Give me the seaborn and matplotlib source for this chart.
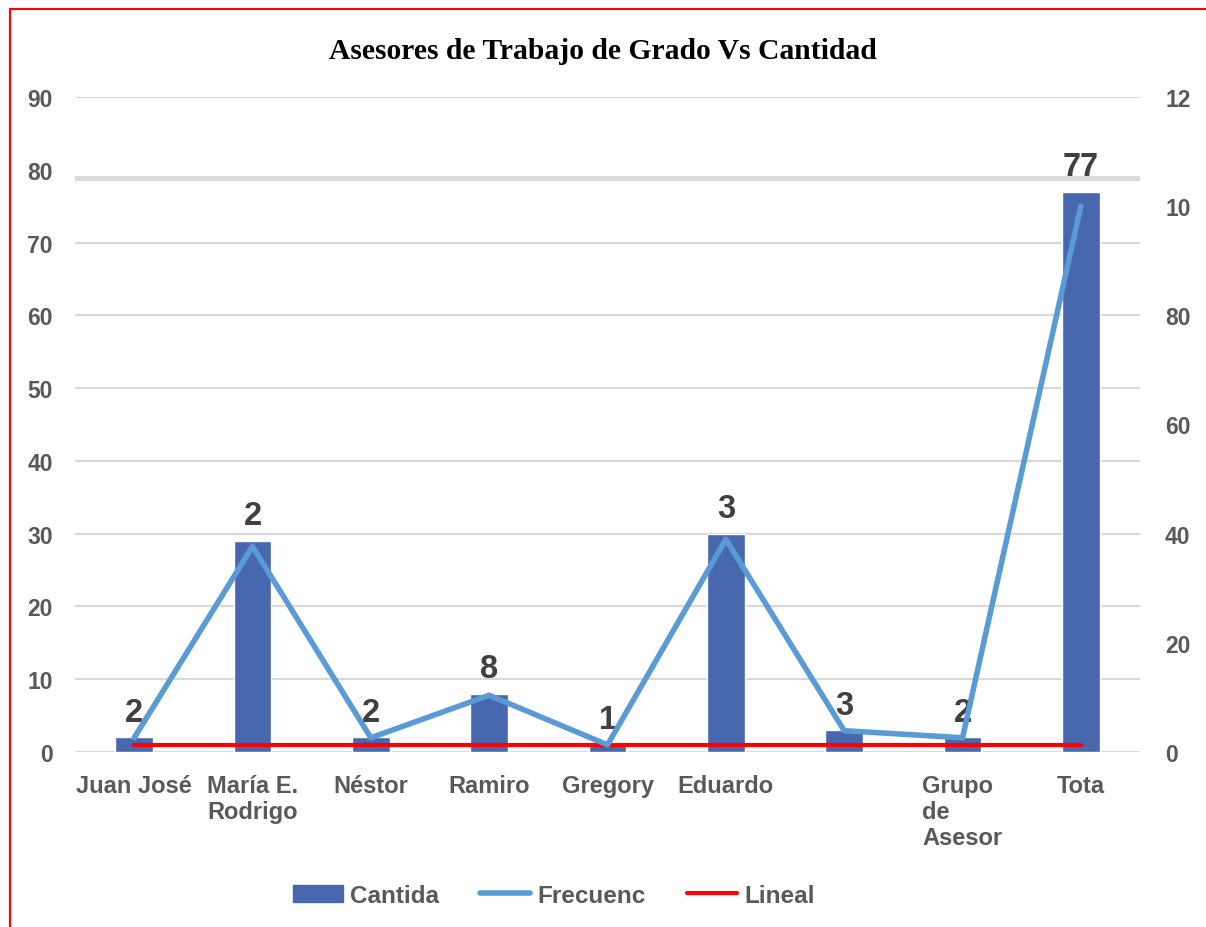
import matplotlib
matplotlib.use("Agg")
import matplotlib.pyplot as plt
from matplotlib.patches import Rectangle, Patch
from matplotlib.lines import Line2D
import seaborn as sns
import pandas as pd
import numpy as np

# -----------------------------
# Data
# -----------------------------
categorias = ["Juan José", "María E.\nRodrigo", "Néstor", "Ramiro", "Gregory",
              "Eduardo", "", "Grupo\nde\nAsesor", "Tota"]
cantidad = [2, 29, 2, 8, 1, 30, 3, 2, 77]
frecuencia = [2.6, 37.66, 2.6, 10.39, 1.3, 38.96, 3.9, 2.6, 100]
lineal = [1, 1, 1, 1, 1, 1, 1, 1, 1]
etiquetas = ["2", "2", "2", "8", "1", "3", "3", "2", "77"]
ticks_izq = [0, 10, 20, 30, 40, 50, 60, 70, 80, 90]
ticks_der = [0, 20, 40, 60, 80, 100, 120]
ticks_der_txt = ["0", "20", "40", "60", "80", "10", "12"]

df = pd.DataFrame({"cat": categorias, "cantidad": cantidad})
pos = np.arange(len(categorias))

# -----------------------------
# Figure
# -----------------------------
sns.set_style("white")
plt.rcParams["font.family"] = ["Liberation Sans", "DejaVu Sans"]

fig = plt.figure(figsize=(12.06, 9.28), dpi=100)
ax = fig.add_axes([0.0622, 0.1886, 0.8831, 0.7058])

gris = "#595959"
sns.barplot(data=df, x="cat", y="cantidad", color="#4767AE", width=0.32,
            saturation=1, ax=ax, zorder=3)
ax.plot(pos, lineal, color="#FF0000", lw=3, zorder=5)

ax.set_xlim(-0.5, len(categorias) - 0.5)
ax.set_ylim(0, 90)
ax.set_yticks(ticks_izq)
for t in ticks_izq:
    if t == 80:
        # the 80 gridline is drawn thicker and slightly low in the original
        ax.axhline(t - 1.1, color="#D9D9D9", lw=3.5, zorder=1)
    else:
        ax.axhline(t, color="#D9D9D9", lw=1.5, zorder=1)
ax.set_xlabel("")
ax.set_ylabel("")
for s in ax.spines.values():
    s.set_visible(False)
ax.tick_params(axis="both", length=0, colors=gris)
ax.tick_params(axis="y", pad=16, labelsize=16.5)
ax.tick_params(axis="x", pad=16, labelsize=17)
for lbl in ax.get_xticklabels():
    lbl.set_fontweight("bold")
    lbl.set_linespacing(1.15)
    lbl.set_verticalalignment("top")
    if lbl.get_text().startswith("Grupo"):
        lbl.set_multialignment("left")
for lbl in ax.get_yticklabels():
    lbl.set_fontweight("bold")

for x, v, txt in zip(pos, cantidad, etiquetas):
    ax.text(x, v + 1.3, txt, ha="center", va="bottom", fontsize=23.5,
            fontweight="bold", color="#404040", zorder=6)

# right axis
ax2 = ax.twinx()
sns.lineplot(x=pos, y=frecuencia, color="#5B9BD5", lw=4, ax=ax2, zorder=4)
ax2.set_ylim(0, 120)
ax2.set_yticks(ticks_der)
ax2.set_yticklabels(ticks_der_txt)
for s in ax2.spines.values():
    s.set_visible(False)
ax2.tick_params(axis="y", length=0, colors=gris, labelsize=16.5, pad=18)
for lbl in ax2.get_yticklabels():
    lbl.set_fontweight("bold")
ax2.set_ylabel("")

fig.text(0.5, 0.945, "Asesores de Trabajo de Grado Vs Cantidad", ha="center",
         va="center", fontsize=21.3, fontweight="bold", color="black",
         family=["Liberation Serif", "DejaVu Serif"])

handles = [Patch(color="#4767AE"),
           Line2D([], [], color="#5B9BD5", lw=4),
           Line2D([], [], color="#FF0000", lw=3)]
fig.legend(handles, ["Cantida", "Frecuenc", "Lineal"], ncol=3, loc="center",
           bbox_to_anchor=(0.459, 0.034), frameon=False, handlelength=2.05,
           columnspacing=1.7, handletextpad=0.3,
           prop={"size": 17.5, "weight": "bold"}, labelcolor=gris)

# red frame
fig.patches.append(Rectangle((10 / 1206, -0.1), 1.1, 1 - 10 / 928 + 0.1,
                             transform=fig.transFigure, fill=False,
                             edgecolor="#FF0000", lw=1.5))

fig.savefig("out.png", dpi=100)
